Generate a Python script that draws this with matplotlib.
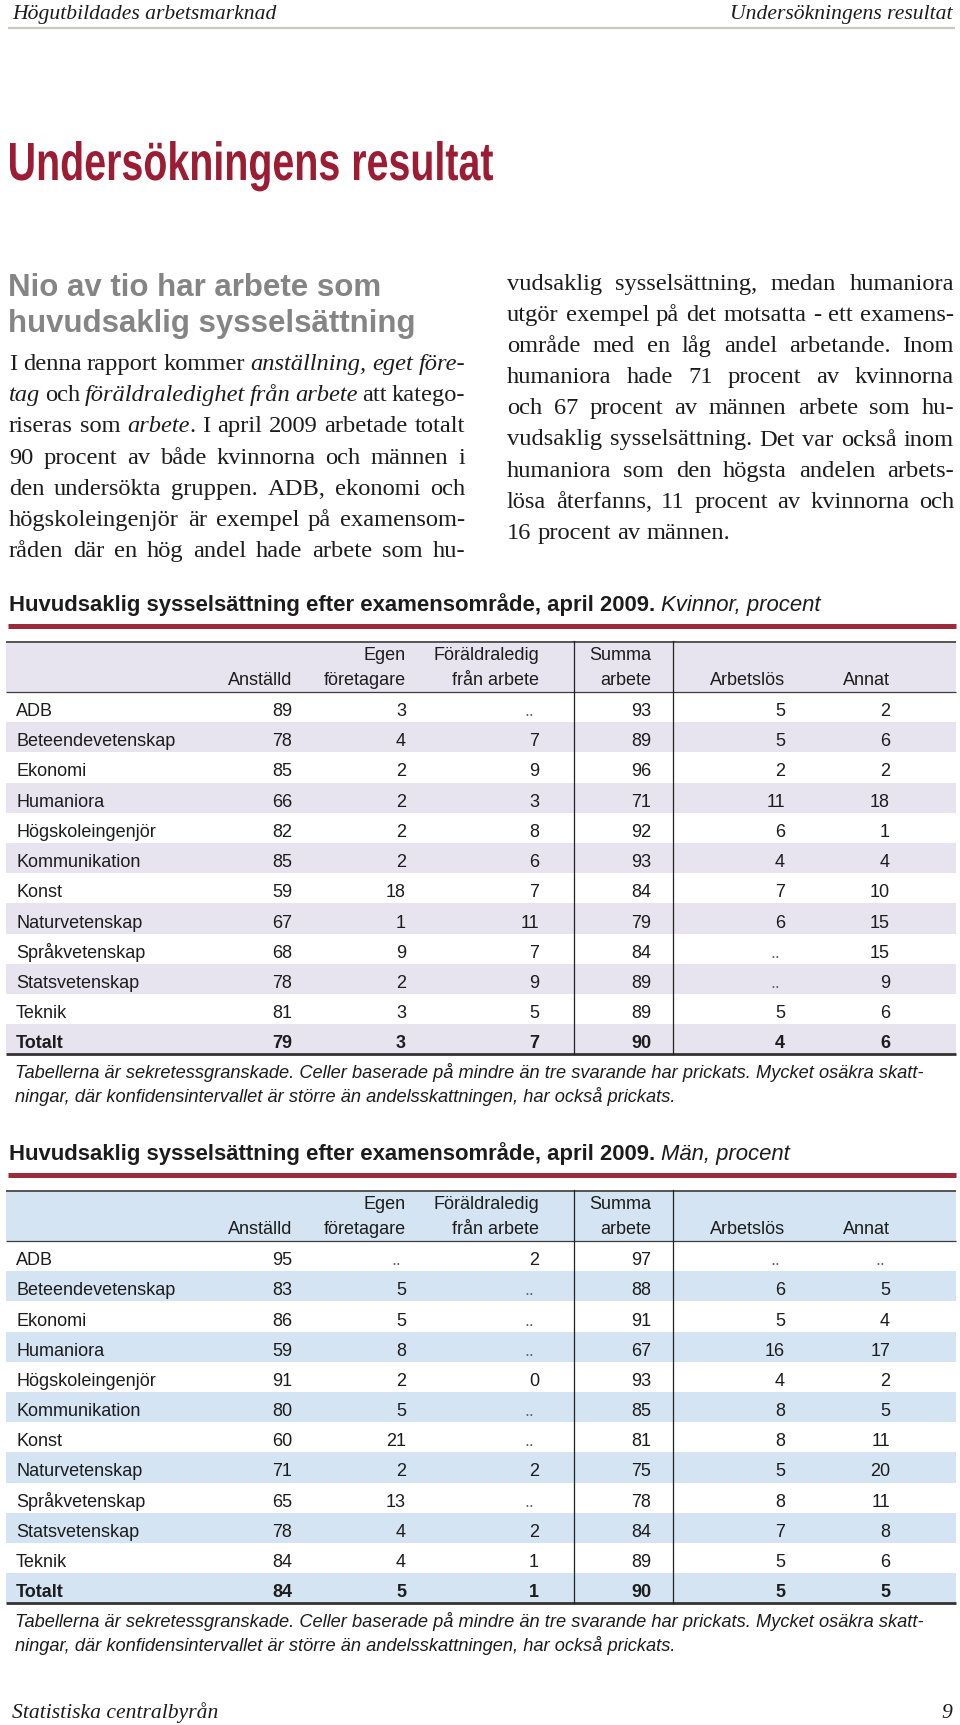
import matplotlib
matplotlib.use("Agg")
import matplotlib.pyplot as plt
from matplotlib.patches import Rectangle, PathPatch
from matplotlib.textpath import TextPath
from matplotlib.font_manager import FontProperties
from matplotlib.transforms import Affine2D

# ---- data -----------------------------------------------------------------
fields = ["ADB", "Beteendevetenskap", "Ekonomi", "Humaniora", "Högskoleingenjör",
          "Kommunikation", "Konst", "Naturvetenskap", "Språkvetenskap",
          "Statsvetenskap", "Teknik", "Totalt"]

head_line1 = ["", "Egen", "Föräldraledig", "Summa", "", ""]
head_line2 = ["Anställd", "företagare", "från arbete", "arbete", "Arbetslös", "Annat"]

# None = prickad cell ("..")
anstalld_k = [89, 78, 85, 66, 82, 85, 59, 67, 68, 78, 81, 79]
egen_k = [3, 4, 2, 2, 2, 2, 18, 1, 9, 2, 3, 3]
foraldra_k = [None, 7, 9, 3, 8, 6, 7, 11, 7, 9, 5, 7]
summa_k = [93, 89, 96, 71, 92, 93, 84, 79, 84, 89, 89, 90]
arbetslos_k = [5, 5, 2, 11, 6, 4, 7, 6, None, None, 5, 4]
annat_k = [2, 6, 2, 18, 1, 4, 10, 15, 15, 9, 6, 6]

anstalld_m = [95, 83, 86, 59, 91, 80, 60, 71, 65, 78, 84, 84]
egen_m = [None, 5, 5, 8, 2, 5, 21, 2, 13, 4, 4, 5]
foraldra_m = [2, None, None, None, 0, None, None, 2, None, 2, 1, 1]
summa_m = [97, 88, 91, 67, 93, 85, 81, 75, 78, 84, 89, 90]
arbetslos_m = [None, 6, 5, 16, 4, 8, 8, 5, 8, 7, 5, 5]
annat_m = [None, 5, 4, 17, 2, 5, 11, 20, 11, 8, 6, 5]

left_lines = [
    "I denna rapport kommer _anställning, eget före-_",
    "_tag_ och _föräldraledighet från arbete_ att katego-",
    "riseras som _arbete_. I april 2009 arbetade totalt",
    "90 procent av både kvinnorna och männen i",
    "den undersökta gruppen. ADB, ekonomi och",
    "högskoleingenjör är exempel på examensom-",
    "råden där en hög andel hade arbete som hu-",
]
right_lines = [
    "vudsaklig sysselsättning, medan humaniora",
    "utgör exempel på det motsatta - ett examens-",
    "område med en låg andel arbetande. Inom",
    "humaniora hade 71 procent av kvinnorna",
    "och 67 procent av männen arbete som hu-",
    "vudsaklig sysselsättning. Det var också inom",
    "humaniora som den högsta andelen arbets-",
    "lösa återfanns, 11 procent av kvinnorna och",
    "16 procent av männen.",
]

note1 = ("Tabellerna är sekretessgranskade. Celler baserade på mindre än tre "
         "svarande har prickats. Mycket osäkra skatt-")
note2 = "ningar, där konfidensintervallet är större än andelsskattningen, har också prickats."

SANS = "Liberation Sans"
SERIF = "Liberation Serif"
RED = "#9b1c33"
INK = "#1c1c1c"

fig = plt.figure(figsize=(9.6, 17.25), dpi=100)
ax = fig.add_axes([0, 0, 1, 1])
ax.set_xlim(0, 960)
ax.set_ylim(1725, 0)
ax.axis("off")
renderer = fig.canvas.get_renderer()


def text_w(s, size, **kw):
    t = ax.text(0, 0, s, fontsize=size, **kw)
    w = t.get_window_extent(renderer).width
    t.remove()
    return w


def fit(s, width, **kw):
    return 20 * width / text_w(s, 20, **kw)


def condensed(s, x, baseline, cap_h, width, color, weight="bold"):
    # draw a text as an outline squeezed to a given cap height and width
    fp = FontProperties(family=SANS, weight=weight)
    tp = TextPath((0, 0), s, size=100, prop=fp)
    ext = tp.get_extents()
    cap = TextPath((0, 0), "H", size=100, prop=fp).get_extents().height
    tr = (Affine2D().translate(-ext.x0, 0)
          .scale(width / ext.width, -cap_h / cap).translate(x, baseline))
    ax.add_patch(PathPatch(tr.transform_path(tp), facecolor=color, lw=0))


# ---- page header ----------------------------------------------------------
hs = fit("Högutbildades arbetsmarknad", 263, family=SERIF, style="italic")
ax.text(12, 19.5, "Högutbildades arbetsmarknad", fontsize=hs, family=SERIF,
        style="italic", color=INK, va="baseline")
ax.text(952, 19.5, "Undersökningens resultat", fontsize=hs, family=SERIF,
        style="italic", color=INK, va="baseline", ha="right")
ax.plot([8, 955], [27.5, 27.5], color="#cacac4", lw=1.6, solid_capstyle="butt")

condensed("Undersökningens resultat", 10, 180, 37, 483, RED)

gs = fit("huvudsaklig sysselsättning", 407, family=SANS, weight="bold")
ax.text(8, 295.7, "Nio av tio har arbete som", fontsize=gs, family=SANS,
        weight="bold", color="#858585", va="baseline")
ax.text(8, 331.7, "huvudsaklig sysselsättning", fontsize=gs, family=SANS,
        weight="bold", color="#858585", va="baseline")


# ---- body text (justified) ------------------------------------------------
def parse(line):
    tokens, cur, buf, ital = [], [], "", False
    for ch in line:
        if ch == "_":
            if buf:
                cur.append((buf, ital))
                buf = ""
            ital = not ital
        elif ch == " ":
            if buf:
                cur.append((buf, ital))
                buf = ""
            if cur:
                tokens.append(cur)
                cur = []
        else:
            buf += ch
    if buf:
        cur.append((buf, ital))
    if cur:
        tokens.append(cur)
    return tokens


def natural_w(line, size):
    tokens = parse(line)
    sp = text_w("a a", size, family=SERIF) - text_w("aa", size, family=SERIF)
    w = sum(text_w(s, size, family=SERIF, style="italic" if it else "normal")
            for tok in tokens for s, it in tok)
    return w + sp * (len(tokens) - 1)


bs = fit("16 procent av männen.", 223, family=SERIF)
# grow the size until the widest justified line just fills its column
grow = min([456 / natural_w(l, bs) for l in left_lines] +
           [447 / natural_w(l, bs) for l in right_lines[:-1]])
bs = bs * min(max(grow, 1.0), 1.08)
space_w = text_w("a a", bs, family=SERIF) - text_w("aa", bs, family=SERIF)


def body_line(line, x0, x1, y, justify=True):
    tokens = parse(line)
    widths = [[text_w(s, bs, family=SERIF, style="italic" if it else "normal")
               for s, it in tok] for tok in tokens]
    total = sum(sum(w) for w in widths)
    gap = (x1 - x0 - total) / (len(tokens) - 1) if justify else space_w
    x = x0
    for tok, ws in zip(tokens, widths):
        for (s, it), w in zip(tok, ws):
            ax.text(x, y, s, fontsize=bs, family=SERIF,
                    style="italic" if it else "normal", color=INK, va="baseline")
            x += w
        x += gap


for i, line in enumerate(left_lines):
    body_line(line, 9, 465, 370 + i * 31.2)
for i, line in enumerate(right_lines):
    body_line(line, 507, 954, 290 + i * 31.1, justify=i < len(right_lines) - 1)

# ---- tables ---------------------------------------------------------------
X0, X1 = 6, 956
HEAD_H = 51
ROW_H = 30.2
COL_RIGHT = [292, 406, 539, 651, 785, 890]
VLINES = [574, 673]
fs = fit("Beteendevetenskap", 159, family=SANS)
TTL = "Huvudsaklig sysselsättning efter examensområde, april 2009."
ttl = fit(TTL, 646, family=SANS, weight="bold")


def draw_table(top, fill, who, cols):
    ax.text(9, top - 30, TTL, fontsize=ttl, family=SANS, weight="bold",
            color=INK, va="baseline")
    wb = text_w(TTL, ttl, family=SANS, weight="bold")
    ax.text(9 + wb + 6, top - 30, who + ", procent", fontsize=ttl, family=SANS,
            style="italic", color=INK, va="baseline")
    ax.plot([8, 956], [top - 15.5, top - 15.5], color="#9a2a3c", lw=3.6,
            solid_capstyle="butt")

    body_top = top + HEAD_H
    n = len(fields)
    bottom = body_top + n * ROW_H
    ax.add_patch(Rectangle((X0, top), X1 - X0, HEAD_H, color=fill, lw=0))
    for i in range(n):
        if i % 2 == 1:
            ax.add_patch(Rectangle((X0, body_top + i * ROW_H), X1 - X0, ROW_H,
                                   color=fill, lw=0))

    for j, xr in enumerate(COL_RIGHT):
        ax.text(xr, top + 19, head_line1[j], fontsize=fs, family=SANS,
                color=INK, ha="right", va="baseline")
        ax.text(xr, top + 44, head_line2[j], fontsize=fs, family=SANS,
                color=INK, ha="right", va="baseline")

    for i, name in enumerate(fields):
        yb = body_top + i * ROW_H + ROW_H / 2 + 9
        wt = "bold" if name == "Totalt" else "normal"
        ax.text(16, yb, name, fontsize=fs, family=SANS, weight=wt, color=INK,
                va="baseline")
        for j, col in enumerate(cols):
            v = col[i]
            if v is None:
                ax.text(COL_RIGHT[j] - 5, yb, "..", fontsize=fs,
                        family=SANS, color="#666666", ha="right", va="baseline")
            else:
                ax.text(COL_RIGHT[j], yb, str(v), fontsize=fs, family=SANS,
                        weight=wt, color=INK, ha="right", va="baseline")

    ax.plot([X0, X1], [top + 0.7, top + 0.7], color="#4a4a4a", lw=1.3,
            solid_capstyle="butt")
    ax.plot([X0, X1], [body_top, body_top], color="#3c3c3c", lw=0.9,
            solid_capstyle="butt")
    ax.plot([X0, X1], [bottom, bottom], color="#333333", lw=2.0,
            solid_capstyle="butt")
    for xv in VLINES:
        ax.plot([xv, xv], [top, bottom], color="#222222", lw=0.9)

    ns = fit(note1, 905, family=SANS, style="italic")
    ax.text(15, bottom + 23.5, note1, fontsize=ns, family=SANS, style="italic",
            color=INK, va="baseline")
    ax.text(15, bottom + 47.5, note2, fontsize=ns, family=SANS, style="italic",
            color=INK, va="baseline")


draw_table(641, "#e7e4f0", "Kvinnor",
           [anstalld_k, egen_k, foraldra_k, summa_k, arbetslos_k, annat_k])
draw_table(1190, "#d5e4f3", "Män",
           [anstalld_m, egen_m, foraldra_m, summa_m, arbetslos_m, annat_m])

# ---- page footer ----------------------------------------------------------
fs_foot = fit("Statistiska centralbyrån", 206, family=SERIF, style="italic")
ax.text(12, 1718, "Statistiska centralbyrån", fontsize=fs_foot, family=SERIF,
        style="italic", color=INK, va="baseline")
ax.text(952, 1718, "9", fontsize=fs_foot, family=SERIF, style="italic",
        color=INK, va="baseline", ha="right")

fig.savefig("out.png", dpi=100, facecolor="white")
